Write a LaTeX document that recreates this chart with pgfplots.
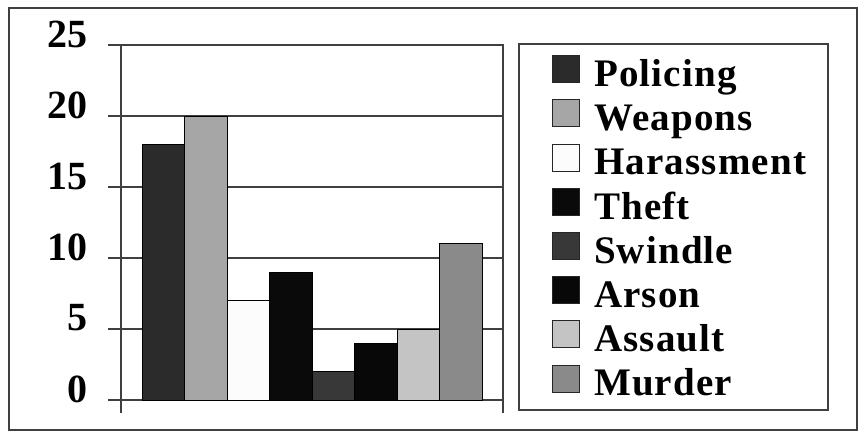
\documentclass[border=0pt]{standalone}
\usepackage{fontspec}
\setmainfont{Liberation Serif}
\newfontfamily\legfont[LetterSpace=3]{Liberation Serif}
\usepackage{pgfplots}
\pgfplotsset{compat=1.18}
\definecolor{cPol}{HTML}{2B2B2B}
\definecolor{cWea}{HTML}{A6A6A6}
\definecolor{cHar}{HTML}{FCFCFC}
\definecolor{cThe}{HTML}{0A0A0A}
\definecolor{cSwi}{HTML}{383838}
\definecolor{cArs}{HTML}{080808}
\definecolor{cAss}{HTML}{C4C4C4}
\definecolor{cMur}{HTML}{8A8A8A}
\definecolor{lineg}{HTML}{404040}
\begin{document}
\begin{tikzpicture}[x=1pt,y=1pt]
\path[use as bounding box] (0,0) rectangle (862,432);
\draw[line width=1.5pt, draw=lineg] (9,2) rectangle (857,424);
\begin{axis}[
  at={(121pt,32pt)}, anchor=south west, scale only axis,
  width=382pt, height=355pt, clip=false,
  xmin=-0.5, xmax=0.5, ymin=0, ymax=25,
  ybar=0pt, bar width=42.5pt,
  xtick={-0.5,0.5}, xticklabels={}, xtick pos=bottom, ytick pos=left,
  ytick={0,5,10,15,20,25},
  tick align=outside, major tick length=13pt,
  ymajorgrids, grid style={lineg, line width=1.2pt},
  axis line style={lineg, line width=1.2pt},
  tick style={lineg, line width=1.2pt},
  yticklabel style={font=\fontsize{40}{40}\selectfont\bfseries, yshift=11pt, xshift=-17pt},
  /pgf/number format/assume math mode=true,
  legend style={draw=none, fill=none, inner sep=0pt,
    at={(axis description cs:1.1283,0.9719)}, anchor=north west,
    font=\fontsize{39}{39}\selectfont\legfont\bfseries,
    row sep=3.8pt, column sep=14pt,
    nodes={inner sep=0pt, text height=27pt, text depth=9pt}},
  legend cell align=left,
  legend image code/.code={\draw[#1, draw=black!85, line width=0.8pt] (0pt,-5pt) rectangle (27pt,22pt);},
]
\addplot[fill=cPol, draw=black, line width=0.8pt] coordinates {(0,18)};
\addplot[fill=cWea, draw=black, line width=0.8pt] coordinates {(0,20)};
\addplot[fill=cHar, draw=black, line width=0.8pt] coordinates {(0,7)};
\addplot[fill=cThe, draw=black, line width=0.8pt] coordinates {(0,9)};
\addplot[fill=cSwi, draw=black, line width=0.8pt] coordinates {(0,2)};
\addplot[fill=cArs, draw=black, line width=0.8pt] coordinates {(0,4)};
\addplot[fill=cAss, draw=black, line width=0.8pt] coordinates {(0,5)};
\addplot[fill=cMur, draw=black, line width=0.8pt] coordinates {(0,11)};
\legend{Policing,Weapons,Harassment,Theft,Swindle,Arson,Assault,Murder}
\draw[lineg, line width=1.2pt] (axis description cs:1.0419,1.0028) rectangle (axis description cs:1.8508,-0.0282);
\end{axis}
\end{tikzpicture}
\end{document}
